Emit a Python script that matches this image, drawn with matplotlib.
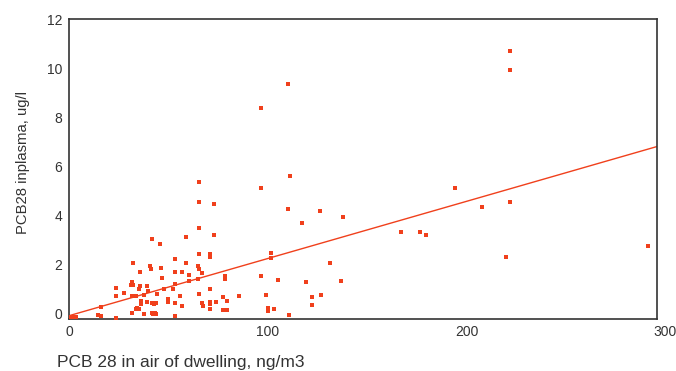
import matplotlib
matplotlib.use("Agg")
import matplotlib.pyplot as plt

plt.rcParams['font.family'] = ['Liberation Sans', 'DejaVu Sans']

# PCB 28 in air of dwelling (ng/m3) vs PCB28 in plasma (ug/l)
air = [221.9, 221.9, 109.9, 96.4, 111.1, 65.0, 96.4, 194.0, 207.6, 221.7,
       117.3, 126.1, 137.9, 167.1, 176.4, 179.6, 291.7, 220.0, 131.3, 119.4,
       136.7, 122.1, 126.8, 122.1,
       65.0, 72.9, 110.1, 65.0, 72.9, 58.8, 53.4, 65.0, 70.7, 70.7,
       101.6, 101.6, 58.8, 53.4, 56.8, 64.6, 65.0, 60.1, 67.0, 78.1,
       78.3, 96.4, 105.1, 53.4, 52.0, 60.1, 64.6, 70.7, 65.0, 55.6,
       77.4, 85.2, 99.2, 79.5, 67.0, 53.4, 67.5, 70.8, 70.7, 73.6,
       56.8, 71.0, 77.4, 79.5, 99.9, 99.9, 103.1, 53.4, 110.6,
       41.8, 45.6, 32.1, 40.5, 41.1, 46.3, 35.3, 46.6, 31.3, 30.9,
       31.9, 35.4, 34.9, 38.9, 23.4, 39.8, 47.5, 27.6, 23.4, 31.3,
       32.5, 33.3, 37.4, 43.9, 49.7, 49.7, 39.2, 41.4, 42.4, 43.8,
       16.0, 35.9, 36.2, 33.8, 34.9, 33.5, 31.6, 37.4, 41.4, 42.1,
       43.1, 43.8, 14.2, 16.0, 23.2, 0.5, 1.5, 2.5, 3.5]
plasma = [10.73, 9.94, 9.36, 8.40, 5.60, 5.36, 5.11, 5.13, 4.37, 4.56,
          3.69, 4.20, 3.94, 3.31, 3.34, 3.22, 2.74, 2.29, 2.05, 1.30,
          1.35, 0.66, 0.75, 0.35,
          4.54, 4.47, 4.28, 3.50, 3.22, 3.12, 2.24, 2.43, 2.43, 2.33,
          2.47, 2.25, 2.05, 1.71, 1.68, 1.93, 1.83, 1.57, 1.64, 1.53,
          1.42, 1.52, 1.37, 1.19, 1.01, 1.33, 1.40, 0.99, 0.82, 0.73,
          0.66, 0.73, 0.76, 0.51, 0.44, 0.42, 0.32, 0.48, 0.39, 0.47,
          0.32, 0.20, 0.16, 0.16, 0.24, 0.10, 0.20, -0.10, -0.06,
          3.05, 2.84, 2.05, 1.94, 1.84, 1.86, 1.68, 1.45, 1.30, 1.15,
          1.15, 1.12, 1.00, 1.12, 1.04, 0.93, 1.00, 0.85, 0.70, 0.70,
          0.71, 0.73, 0.76, 0.78, 0.59, 0.48, 0.48, 0.42, 0.39, 0.44,
          0.28, 0.51, 0.38, 0.24, 0.18, 0.20, 0.03, -0.02, 0.03, -0.02,
          0.03, -0.02, -0.05, -0.10, -0.18, -0.12, -0.12, -0.12, -0.12]

# regression line
fit_intercept = -0.08
fit_slope = 0.0233
fit_x = [0, 296]

x_ticks = [0, 100, 200, 300]
y_ticks = [0, 2, 4, 6, 8, 10, 12]

red = "#f0401c"
dark = "#333333"

fig = plt.figure(figsize=(6.76, 3.71), dpi=100)
ax = fig.add_axes([69 / 676, 1 - 319 / 371, (657 - 69) / 676, (319 - 19) / 371])

ax.scatter(air, plasma, marker='s', s=6, color=red, linewidths=0, zorder=3)
ax.plot(fit_x, [fit_intercept + fit_slope * x for x in fit_x], color=red, lw=1.0)

# the reference's x scale runs a little past the right edge of the frame
ax.set_xlim(-0.25, 296.0)
ax.set_ylim(-0.22, 12.02)
ax.set_xticks([])
ax.set_yticks(y_ticks)
ax.tick_params(length=0, labelsize=10, labelcolor=dark)
ax.tick_params(axis='y', pad=5)
xform = ax.get_xaxis_transform()
for t in x_ticks:
    ax.text(t, -0.02, str(t), transform=xform, ha='center', va='top',
            fontsize=10, color=dark, clip_on=False)
for s in ax.spines.values():
    s.set_color(dark)
    s.set_linewidth(1.2)

fig.text(57 / 676, 1 - 362 / 371, "PCB 28 in air of dwelling, ng/m3",
         fontsize=12.5, color=dark, ha='left', va='center')
fig.text(23 / 676, 1 - 163 / 371, "PCB28 inplasma, ug/l",
         fontsize=10.7, color=dark, rotation=90, ha='center', va='center')

fig.savefig("out.png", dpi=100)
